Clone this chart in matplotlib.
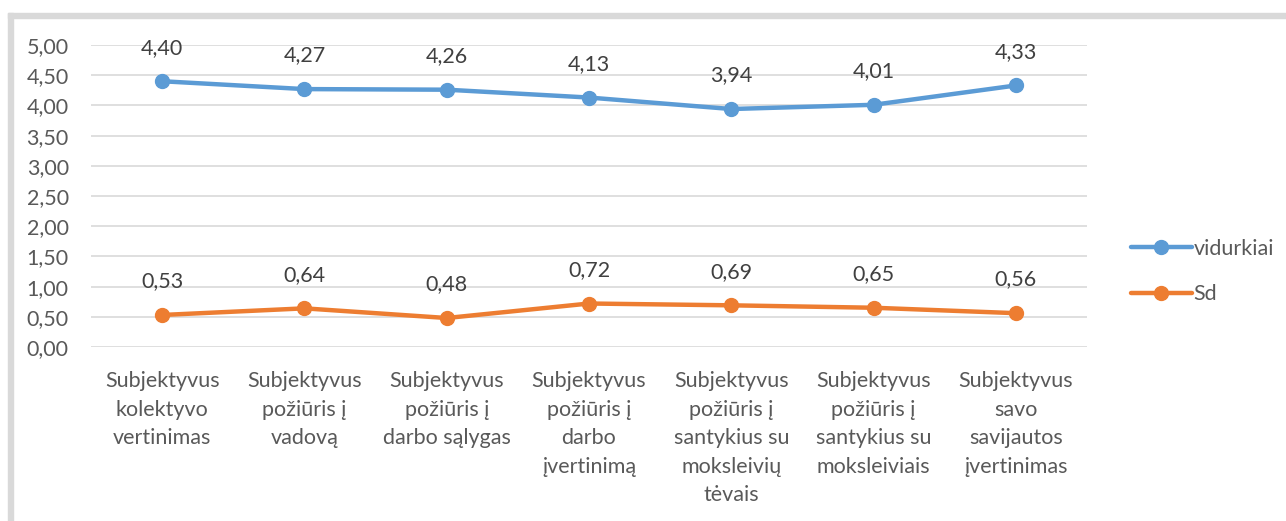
import matplotlib.pyplot as plt
from matplotlib.patches import Rectangle

kategorijos = [
    "Subjektyvus\nkolektyvo\nvertinimas",
    "Subjektyvus\npožiūris į\nvadovą",
    "Subjektyvus\npožiūris į\ndarbo sąlygas",
    "Subjektyvus\npožiūris į\ndarbo\nįvertinimą",
    "Subjektyvus\npožiūris į\nsantykius su\nmoksleivių\ntėvais",
    "Subjektyvus\npožiūris į\nsantykius su\nmoksleiviais",
    "Subjektyvus\nsavo\nsavijautos\nįvertinimas",
]
vidurkiai = [4.40, 4.27, 4.26, 4.13, 3.94, 4.01, 4.33]
sd = [0.53, 0.64, 0.48, 0.72, 0.69, 0.65, 0.56]

plt.rcParams['font.family'] = ['Lato', 'DejaVu Sans']
tekstas = '#595959'
fs = 15.5

fig = plt.figure(figsize=(12.86, 5.21), dpi=100)
W, H = 1286, 521

# pilkas rėmelis
fig.patches.append(Rectangle((8 / W, 0), 5 / W, 1 - 13 / H, transform=fig.transFigure,
                             color='#d9d9d9', zorder=0))
fig.patches.append(Rectangle((8 / W, 1 - 18 / H), 1, 5 / H, transform=fig.transFigure,
                             color='#d9d9d9', zorder=0))

ax = fig.add_axes([91 / W, 1 - 347 / H, 996 / W, 302 / H])
x = list(range(len(kategorijos)))

ax.plot(x, vidurkiai, color='#5b9bd5', lw=3.2, marker='o', ms=10, label='vidurkiai',
        solid_capstyle='round', zorder=3)
ax.plot(x, sd, color='#ed7d31', lw=3.2, marker='o', ms=10, label='Sd',
        solid_capstyle='round', zorder=3)

for xi, v in zip(x, vidurkiai):
    ax.annotate(f"{v:.2f}".replace('.', ','), (xi, v), xytext=(0, 17), textcoords='offset points',
                ha='center', va='bottom', fontsize=fs, color='#404040')
for xi, v in zip(x, sd):
    ax.annotate(f"{v:.2f}".replace('.', ','), (xi, v), xytext=(0, 17), textcoords='offset points',
                ha='center', va='bottom', fontsize=fs, color='#404040')

ax.set_xlim(-0.5, 6.5)
ax.set_ylim(0, 5)
ax.set_yticks([i * 0.5 for i in range(11)])
ax.set_yticklabels([f"{i * 0.5:.2f}".replace('.', ',') for i in range(11)])
ax.set_xticks(x)
ax.set_xticklabels(kategorijos, linespacing=1.53)
ax.tick_params(axis='both', length=0, labelsize=fs, colors=tekstas)
ax.tick_params(axis='x', pad=17.5)
ax.tick_params(axis='y', pad=16)
ax.grid(axis='y', color='#d9d9d9', lw=1.2)
ax.set_axisbelow(True)
for s in ax.spines.values():
    s.set_visible(False)

leg = ax.legend(loc='center left', bbox_to_anchor=(1.025, 0.25), frameon=False,
                fontsize=fs, handlelength=2.8, handletextpad=0.1, labelspacing=1.2)
for t in leg.get_texts():
    t.set_color(tekstas)

fig.savefig('out.png', dpi=100)
